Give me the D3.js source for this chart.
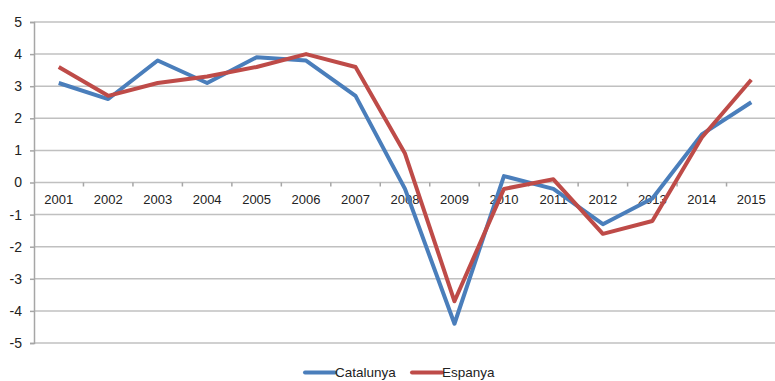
<!DOCTYPE html>
<html><head><meta charset="utf-8">
<script src="https://cdn.jsdelivr.net/npm/d3@7"></script>
<style>body{margin:0;background:#fff;font-family:"Liberation Sans",Arial,sans-serif;}</style>
</head><body><svg id="c" width="775" height="381"></svg>
<script>
const years = ["2001","2002","2003","2004","2005","2006","2007","2008","2009","2010","2011","2012","2013","2014","2015"];
const catalunya = [3.1,2.6,3.8,3.1,3.9,3.8,2.7,-0.2,-4.4,0.2,-0.2,-1.3,-0.5,1.5,2.5];
const espanya = [3.6,2.7,3.1,3.3,3.6,4.0,3.6,0.9,-3.7,-0.2,0.1,-1.6,-1.2,1.4,3.2];
const yTicks = [-5,-4,-3,-2,-1,0,1,2,3,4,5];
const seriesNames = ["Catalunya","Espanya"];
const colors = ["#4a7ebb","#be4b48"];

const svg = d3.select("#c");
const x = d3.scaleBand().domain(years).range([34,776]);
const y = d3.scaleLinear().domain([-5,5]).range([343,22]);
const FF = "Liberation Sans, Arial, sans-serif";

// gridlines
svg.append("g").selectAll("line").data(yTicks).join("line")
  .attr("x1",34).attr("x2",775).attr("y1",d=>y(d)).attr("y2",d=>y(d))
  .attr("stroke","#c0c0c0").attr("stroke-width",1.5);

// y axis
const ya = svg.append("g").attr("transform","translate(34,0)")
  .call(d3.axisLeft(y).tickValues(yTicks).tickSize(4).tickPadding(8).tickFormat(d=>String(d)));
ya.select(".domain").attr("stroke","#a6a6a6").attr("stroke-width",1.5);
ya.selectAll(".tick line").attr("stroke","#a6a6a6").attr("stroke-width",1.5);
ya.selectAll("text").attr("font-size",14).attr("fill","#222").attr("font-family",FF);

// x axis at 0
const xa = svg.append("g").attr("transform",`translate(0,${y(0)})`)
  .call(d3.axisBottom(x).tickSize(0).tickPadding(12));
xa.select(".domain").remove();
xa.selectAll("text").attr("font-size",13).attr("fill","#222").attr("font-family",FF);
// tick marks at band boundaries
svg.append("g").selectAll("line").data(years.slice(1)).join("line")
  .attr("x1",d=>x(d)).attr("x2",d=>x(d)).attr("y1",y(0)).attr("y2",y(0)+4)
  .attr("stroke","#a6a6a6").attr("stroke-width",1.5);

const line = d3.line().x((d,i)=>x(years[i])+x.bandwidth()/2).y(d=>y(d));
[catalunya,espanya].forEach((s,k)=>{
  svg.append("path").datum(s).attr("d",line).attr("fill","none")
    .attr("stroke",colors[k]).attr("stroke-width",4).attr("stroke-linejoin","round");
});

// legend
const leg = [{x:305,t:335},{x:412,t:442}];
seriesNames.forEach((n,k)=>{
  svg.append("line").attr("x1",leg[k].x).attr("x2",leg[k].x+30).attr("y1",372.5).attr("y2",372.5)
    .attr("stroke",colors[k]).attr("stroke-width",4).attr("stroke-linecap","round");
  svg.append("text").attr("x",leg[k].t).attr("y",377).attr("font-size",13.5).attr("fill","#222")
    .attr("font-family",FF).text(n);
});
</script></body></html>
